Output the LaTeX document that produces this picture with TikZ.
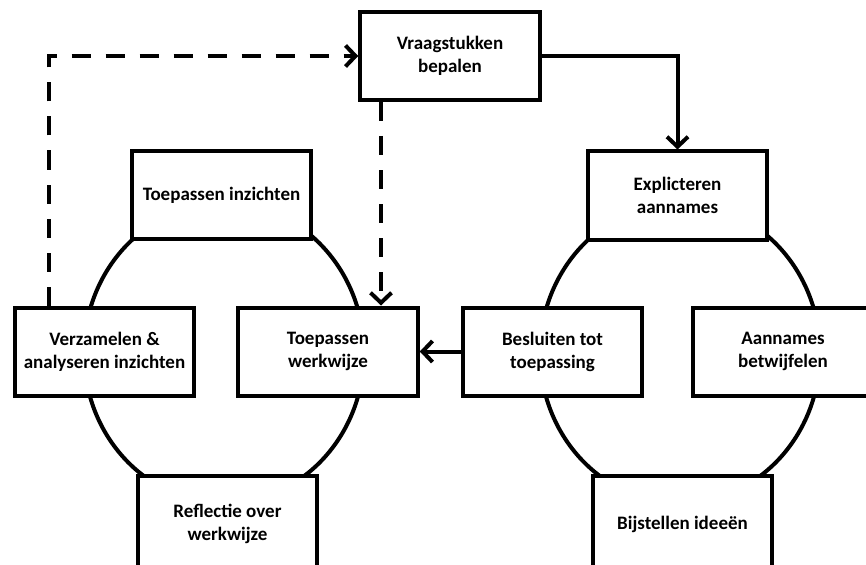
\documentclass[tikz,border=0pt]{standalone}
\usepackage{fontspec}
\setmainfont{Carlito}
\usetikzlibrary{arrows.meta}
\begin{document}
\begin{tikzpicture}[x=1pt,y=-1pt,
  stepbox/.style={draw,line width=4pt,fill=white,minimum width=179.5pt,minimum height=88pt,
    align=center,inner sep=0pt,font=\fontsize{19}{23}\selectfont\bfseries},
  ring/.style={line width=4pt},
  conn/.style={line width=4pt,-{Straight Barb[length=10pt,width=21pt]}},
  dashconn/.style={conn,dash pattern=on 19pt off 15pt}]
\clip (0,0) rectangle (866,564);
\useasboundingbox (0,0) rectangle (866,564);
\fill[white] (0,0) rectangle (866,564);
\draw[ring] (224,353) ellipse [x radius=140, y radius=150];
\draw[ring] (680,353) ellipse [x radius=140, y radius=150];
\node[stepbox] (vr) at (450,56) {Vraagstukken\\bepalen};
\node[stepbox] (ex) at (677.5,195.5) {Explicteren\\aannames};
\node[stepbox] (ti) at (221.5,195) {Toepassen inzichten};
\node[stepbox] (vz) at (104.5,351.5) {Verzamelen \&\\analyseren inzichten};
\node[stepbox] (tw) at (328,351.5) {Toepassen\\werkwijze};
\node[stepbox] (bt) at (552.5,351.5) {Besluiten tot\\toepassing};
\node[stepbox] (aa) at (783,351.5) {Aannames\\betwijfelen};
\node[stepbox,minimum height=96pt] (rf) at (227.5,524) {Reflectie over\\werkwijze};
\node[stepbox,minimum height=96pt] (bj) at (682.5,524) {Bijstellen ideeën};
\coordinate (dl) at (49,56);
\coordinate (dd) at (381,0);
\draw[conn] (vr.east) -| (ex.north);
\draw[conn] (bt.west) -- (tw.east);
\draw[dashconn] (vz.north -| dl) -- (dl) -- (vr.west);
\draw[dashconn] (vr.south -| dd) -- (tw.north -| dd);
\end{tikzpicture}
\end{document}
